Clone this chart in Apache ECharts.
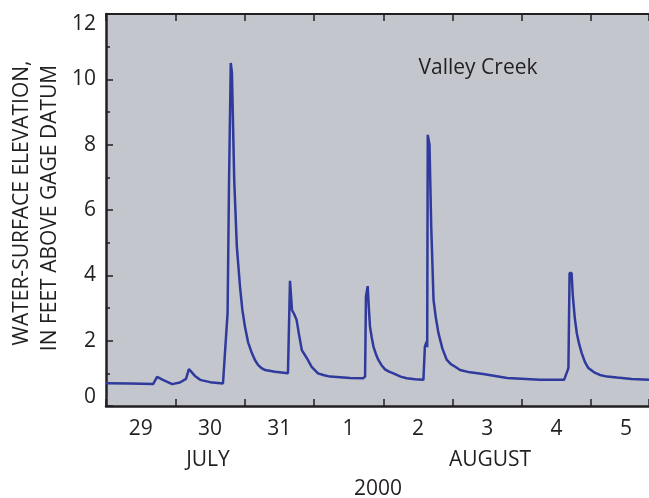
<!DOCTYPE html>
<html>
<head>
<meta charset="utf-8">
<script src="https://cdn.jsdelivr.net/npm/echarts@6/dist/echarts.min.js"></script>
<style>
  html, body { margin: 0; padding: 0; background: #fff; }
  #chart { width: 649px; height: 498px; }
</style>
</head>
<body>
<div id="chart"></div>
<script>
// hours since July 29, 2000 00:00
const hours = [0, 8.3, 16.3, 17.7, 19.7, 22.9, 25.6, 27.7, 28.7, 30.8, 32.6, 36.0, 40.5, 41.0, 42.1, 42.6, 43.2, 43.6, 44.4, 45.3, 46.4, 47.2, 48.1, 49.2, 50.5, 51.6, 52.7, 54.0, 55.1, 58.5, 63.0, 63.5, 63.7, 64.3, 64.4, 65.2, 66.0, 66.8, 67.8, 69.5, 71.2, 73.4, 75.5, 77.6, 84.5, 89.0, 89.7, 90.0, 90.6, 91.0, 91.4, 92.0, 92.6, 93.4, 94.3, 95.4, 96.6, 98.0, 99.5, 102.0, 104.1, 107.0, 109.9, 110.4, 111.0, 111.2, 111.4, 112.0, 112.6, 113.4, 114.2, 115.1, 116.5, 118.0, 119.4, 120.9, 122.6, 126.0, 130.6, 138.9, 150.3, 158.6, 160.1, 160.5, 161.2, 161.6, 162.3, 163.0, 163.8, 164.7, 165.8, 167.0, 169.0, 171.0, 173.5, 176.9, 182.0, 188.0];
// water-surface elevation, feet above gage datum
const stage = [0.70, 0.69, 0.67, 0.89, 0.80, 0.67, 0.72, 0.83, 1.13, 0.92, 0.80, 0.73, 0.69, 0.72, 2.85, 6.9, 10.5, 10.2, 6.9, 4.88, 3.65, 2.95, 2.43, 1.95, 1.62, 1.40, 1.25, 1.15, 1.10, 1.05, 1.00, 0.95, 3.83, 3.80, 2.94, 2.80, 2.63, 2.20, 1.71, 1.47, 1.20, 1.00, 0.94, 0.90, 0.86, 0.85, 0.90, 3.35, 3.67, 3.00, 2.43, 2.10, 1.82, 1.60, 1.41, 1.25, 1.12, 1.05, 1.00, 0.90, 0.85, 0.82, 0.80, 1.82, 1.97, 1.80, 8.3, 8.0, 5.5, 3.25, 2.70, 2.23, 1.75, 1.41, 1.28, 1.20, 1.10, 1.03, 0.98, 0.86, 0.80, 0.80, 1.16, 4.07, 4.07, 3.40, 2.70, 2.23, 1.90, 1.62, 1.35, 1.16, 1.03, 0.95, 0.90, 0.87, 0.83, 0.80];
const dayLabels = ['29', '30', '31', '1', '2', '3', '4', '5'];
const yTicks = { min: 0, max: 12, interval: 2 };

const FONT = 'Open Sans';
const INK = '#231f20';
const SIZE = 21;

const chart = echarts.init(document.getElementById('chart'));
const baseLabel = { fontFamily: FONT, fontSize: SIZE, color: INK };
const font = SIZE + 'px "' + FONT + '"';

chart.setOption({
  animation: false,
  grid: { left: 106, top: 14, right: 0, bottom: 92, show: true, backgroundColor: '#c3c6cd', borderWidth: 0 },
  xAxis: [
    { // ticks at midnight
      type: 'value', min: 0, max: 188, interval: 24, position: 'bottom',
      axisLine: { show: true, lineStyle: { color: INK, width: 2.5 } },
      axisTick: { show: true, inside: true, length: 7, lineStyle: { color: INK, width: 1.5 } },
      axisLabel: { show: false }, splitLine: { show: false }
    },
    { // labels at noon
      type: 'value', min: 0, max: 188, interval: 12, position: 'bottom',
      axisLine: { show: false }, axisTick: { show: false }, splitLine: { show: false },
      axisLabel: Object.assign({}, baseLabel, {
        margin: 13, showMinLabel: false, showMaxLabel: false,
        formatter: v => (v % 24 === 12 ? dayLabels[(v - 12) / 24] : '')
      })
    },
    { // top frame
      type: 'value', min: 0, max: 188, interval: 24, position: 'top',
      axisLine: { show: true, lineStyle: { color: INK, width: 2 } },
      axisTick: { show: true, inside: true, length: 7, lineStyle: { color: INK, width: 1.5 } },
      axisLabel: { show: false }, splitLine: { show: false }
    }
  ],
  yAxis: {
    type: 'value', min: yTicks.min, max: yTicks.max, interval: yTicks.interval,
    axisLine: { show: true, lineStyle: { color: INK, width: 2.5 } },
    axisTick: { show: true, inside: true, length: 7, lineStyle: { color: INK, width: 1.5 } },
    minorTick: { show: true, splitNumber: 2, length: 4, lineStyle: { color: INK, width: 1.5 } },
    splitLine: { show: false },
    axisLabel: Object.assign({}, baseLabel, {
      margin: 10,
      formatter: v => (v === 12 ? '{t|12}' : v === 0 ? '{b|0}' : String(v)),
      rich: {
        t: Object.assign({}, baseLabel, { padding: [20, 0, 0, 0] }),
        b: Object.assign({}, baseLabel, { padding: [0, 0, 18, 0] })
      }
    })
  },
  series: [{
    type: 'line', xAxisIndex: 0, showSymbol: false, smooth: false,
    lineStyle: { color: '#2f3a9c', width: 2.5 },
    data: hours.map((h, i) => [h, stage[i]])
  }],
  graphic: [
    { type: 'text', x: 478, y: 68, style: { text: 'Valley Creek', font: font, fill: INK, align: 'center', verticalAlign: 'middle' } },
    { type: 'text', x: 208, y: 460, style: { text: 'JULY', font: font, fill: INK, align: 'center', verticalAlign: 'middle' } },
    { type: 'text', x: 490, y: 460, style: { text: 'AUGUST', font: font, fill: INK, align: 'center', verticalAlign: 'middle' } },
    { type: 'text', x: 378, y: 489, style: { text: '2000', font: font, fill: INK, align: 'center', verticalAlign: 'middle' } },
    { type: 'text', x: 22, y: 203, rotation: Math.PI / 2, style: { text: 'WATER-SURFACE ELEVATION,', font: font, fill: INK, align: 'center', verticalAlign: 'middle' } },
    { type: 'text', x: 50, y: 208, rotation: Math.PI / 2, style: { text: 'IN FEET ABOVE GAGE DATUM', font: font, fill: INK, align: 'center', verticalAlign: 'middle' } }
  ]
});
</script>
</body>
</html>
